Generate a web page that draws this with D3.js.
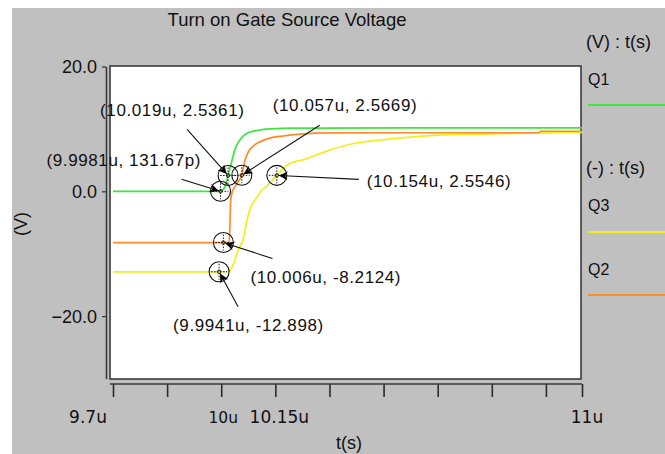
<!DOCTYPE html>
<html>
<head>
<meta charset="utf-8">
<script src="https://cdn.jsdelivr.net/npm/d3@7/dist/d3.min.js"></script>
<style>
  html, body { margin: 0; padding: 0; background: #ffffff; }
  svg { display: block; }
  text { font-family: "Liberation Sans", Arial, Helvetica, sans-serif; fill: #111; }
</style>
</head>
<body>
<svg id="chart" width="665" height="454"></svg>
<script>
// ---- data -------------------------------------------------------------
// Gate-source voltage of three switches during turn-on (time in microseconds, volts)
const q1Time = [9.7, 9.998, 10.0105, 10.019, 10.027, 10.038, 10.047, 10.06, 10.074, 10.09, 10.102, 10.125, 10.15, 10.2, 10.274, 10.5, 11.0];
const q1Volt = [0.0, 0.0, 0.8, 2.54, 4.3, 6.7, 7.8, 8.8, 9.37, 9.65, 9.78, 9.95, 10.06, 10.12, 10.14, 10.16, 10.17];

const q2Time = [9.7, 10.006, 10.022, 10.0245, 10.026, 10.03, 10.04, 10.05, 10.057, 10.065, 10.075, 10.09, 10.11, 10.14, 10.17, 10.22, 10.3, 10.5, 10.88, 10.885, 11.0];
const q2Volt = [-8.2124, -8.2124, -8.1, -5.0, -1.6, -0.2, 0.9, 1.8, 2.5669, 4.8, 6.3, 7.3, 8.0, 8.6, 8.85, 9.15, 9.35, 9.38, 9.38, 9.62, 9.62];

const q3Time = [9.7, 9.9941, 10.02, 10.035, 10.047, 10.06, 10.07, 10.08, 10.095, 10.11, 10.126, 10.154, 10.185, 10.23, 10.3, 10.37, 10.44, 10.5, 10.6, 10.74, 10.88, 11.0];
const q3Volt = [-12.898, -12.898, -12.85, -11.5, -9.35, -7.8, -5.0, -2.8, -1.3, 0.0, 0.8, 2.5546, 4.3, 5.1, 6.6, 7.7, 8.2, 8.55, 9.0, 9.2, 9.35, 9.45];

// cursor read-outs placed on the traces
const markerTime  = [9.9981, 10.019, 10.057, 10.154, 10.006, 9.9941];
const markerVolt  = [131.67e-12, 2.5361, 2.5669, 2.5546, -8.2124, -12.898];
const markerLabel = ["(9.9981u, 131.67p)", "(10.019u, 2.5361)", "(10.057u, 2.5669)",
                     "(10.154u, 2.5546)", "(10.006u, -8.2124)", "(9.9941u, -12.898)"];

// axis ticks
const xTickValues = [9.7, 9.85, 10.0, 10.15, 10.3, 10.45, 10.6, 10.75, 10.9, 11.0];
const xTickLabelValues = [9.7, 10.0, 10.15, 11.0];
const xTickLabels = ["9.7u", "10u", "10.15u", "11u"];
const yTickValues = [-20, 0, 20];

// legend groups
const legendHeads = ["(V) : t(s)", "(-) : t(s)"];
const seriesNames = ["Q1", "Q3", "Q2"];

// ---- layout & style ---------------------------------------------------
const colors = { Q1: "#3ee63e", Q2: "#ff8a2a", Q3: "#f2ee1e" };
const frame = { left: 110, right: 581, top: 66, bottom: 379 };

// label placement (pixel offsets from each cursor point) and arrow tails
const labelOffset = [[-174, -25], [-128, -59], [31, -64], [90, 12], [27, 40], [-46, 59]];
const arrowTail   = [[-39, -12], [-41, -46], [78, -50], [82, 4], [49, 16], [19, 35]];
const xLabelShift = [-25, 2, 4, 5];

const svg = d3.select("#chart");

// grey canvas with a thin white margin at the top and left
svg.append("rect").attr("x", 0).attr("y", 0).attr("width", 665).attr("height", 454).attr("fill", "#ffffff");
svg.append("rect").attr("x", 12).attr("y", 8).attr("width", 653).attr("height", 446).attr("fill", "#c0c0c0");

const x = d3.scaleLinear().domain([9.7, 11.0]).range([113, 582]);
const y = d3.scaleLinear().domain([-30, 20]).range([378.5, 66.5]);

// plot area
svg.append("rect")
  .attr("x", frame.left).attr("y", frame.top)
  .attr("width", frame.right - frame.left).attr("height", frame.bottom - frame.top)
  .attr("fill", "#ffffff").attr("stroke", "#3a3a3a").attr("stroke-width", 1.6);

// title
svg.append("text").attr("x", 287).attr("y", 26).attr("text-anchor", "middle")
  .style("font-size", "18.5px").text("Turn on Gate Source Voltage");

// y axis
const yAxis = svg.append("g").attr("transform", "translate(106,0)")
  .call(d3.axisLeft(y).tickValues(yTickValues).tickSize(4).tickSizeOuter(0).tickFormat(d3.format(".1f")));
yAxis.select(".domain").attr("stroke", "#3a3a3a").attr("stroke-width", 1.6);
yAxis.selectAll(".tick line").attr("stroke", "#3a3a3a").attr("stroke-width", 1.3);
yAxis.selectAll(".tick text").attr("x", -9).attr("dy", "0.36em")
  .style("font-family", "'Liberation Sans', Arial, sans-serif").style("font-size", "18px").attr("fill", "#111");

svg.append("text").attr("transform", "translate(27,224) rotate(-90)").attr("text-anchor", "middle")
  .style("font-size", "18px").text("(V)");

// x axis (ticks below the plot frame)
const xAxis = svg.append("g").attr("transform", "translate(0,384)")
  .call(d3.axisBottom(x).tickValues(xTickValues).tickSize(13).tickSizeOuter(0).tickFormat(""));
xAxis.select(".domain").remove();
xAxis.selectAll(".tick line").attr("stroke", "#2a2a2a").attr("stroke-width", 1.6);
svg.append("line").attr("x1", frame.left).attr("x2", x(11.0)).attr("y1", 384).attr("y2", 384)
  .attr("stroke", "#3a3a3a").attr("stroke-width", 1.6);

svg.selectAll(".xlab").data(xTickLabelValues).enter().append("text")
  .attr("class", "xlab")
  .attr("x", (d, i) => x(d) + xLabelShift[i]).attr("y", 423)
  .attr("text-anchor", "middle")
  .style("font-family", "'DejaVu Sans', sans-serif")
  .style("font-size", (d, i) => i === 1 ? "15.5px" : "17px")
  .attr("fill", (d, i) => i === 1 ? "#2a2a2a" : "#111")
  .text((d, i) => xTickLabels[i]);

svg.append("text").attr("x", 349).attr("y", 449).attr("text-anchor", "middle")
  .style("font-size", "18px").text("t(s)");

// traces
const line = d3.line().x(d => x(d[0])).y(d => y(d[1])).curve(d3.curveMonotoneX);
const traces = [
  { name: "Q3", t: q3Time, v: q3Volt },
  { name: "Q2", t: q2Time, v: q2Volt },
  { name: "Q1", t: q1Time, v: q1Volt }
];
traces.forEach(s => {
  svg.append("path")
    .datum(s.t.map((t, i) => [t, s.v[i]]))
    .attr("d", line).attr("fill", "none")
    .attr("stroke", colors[s.name]).attr("stroke-width", 1.7);
});

// cursor markers, arrows and read-out labels
const defs = svg.append("defs");
defs.append("marker").attr("id", "head").attr("viewBox", "0 0 10 10")
  .attr("refX", 10).attr("refY", 5).attr("markerWidth", 11).attr("markerHeight", 9)
  .attr("markerUnits", "userSpaceOnUse").attr("orient", "auto")
  .append("path").attr("d", "M0,0 L10,5 L0,10 L3,5 Z").attr("fill", "#000");

const markers = markerTime.map((t, i) => ({ cx: x(t), cy: y(markerVolt[i]), i }));

const mg = svg.append("g");
markers.forEach(m => {
  const g = mg.append("g").attr("transform", `translate(${m.cx},${m.cy})`);
  g.append("circle").attr("r", 10).attr("fill", "none").attr("stroke", "#111").attr("stroke-width", 1.1);
  g.append("line").attr("x1", -8).attr("x2", 8).attr("y1", 0).attr("y2", 0)
    .attr("stroke", "#111").attr("stroke-width", 1).attr("stroke-dasharray", "1.5,1.5");
  g.append("line").attr("x1", 0).attr("x2", 0).attr("y1", -8).attr("y2", 8)
    .attr("stroke", "#111").attr("stroke-width", 1).attr("stroke-dasharray", "1.5,1.5");
  g.append("circle").attr("r", 1.8).attr("fill", "none").attr("stroke", "#111").attr("stroke-width", 0.8);
});

markers.forEach(m => {
  const [tx, ty] = arrowTail[m.i];
  const len = Math.hypot(tx, ty);
  const ux = tx / len, uy = ty / len;
  svg.append("line")
    .attr("x1", m.cx + tx).attr("y1", m.cy + ty)
    .attr("x2", m.cx + ux * 2).attr("y2", m.cy + uy * 2)
    .attr("stroke", "#111").attr("stroke-width", 1.1)
    .attr("marker-end", "url(#head)");
  const [lx, ly] = labelOffset[m.i];
  svg.append("text").attr("x", m.cx + lx).attr("y", m.cy + ly)
    .style("font-size", "17px").style("letter-spacing", "0.6px")
    .text(markerLabel[m.i]);
});

// legend
const lx0 = 588;
svg.append("text").attr("x", lx0 - 2).attr("y", 48).style("font-size", "18px").text(legendHeads[0]);
svg.append("text").attr("x", lx0 - 2).attr("y", 174).style("font-size", "18px").text(legendHeads[1]);
const legendRows = [
  { name: seriesNames[0], ty: 85, ly: 105 },
  { name: seriesNames[1], ty: 211, ly: 232 },
  { name: seriesNames[2], ty: 275, ly: 295 }
];
legendRows.forEach(r => {
  svg.append("text").attr("x", lx0).attr("y", r.ty).style("font-size", "16px").text(r.name);
  svg.append("line").attr("x1", lx0).attr("x2", 665).attr("y1", r.ly).attr("y2", r.ly)
    .attr("stroke", colors[r.name]).attr("stroke-width", 2);
});
</script>
</body>
</html>
